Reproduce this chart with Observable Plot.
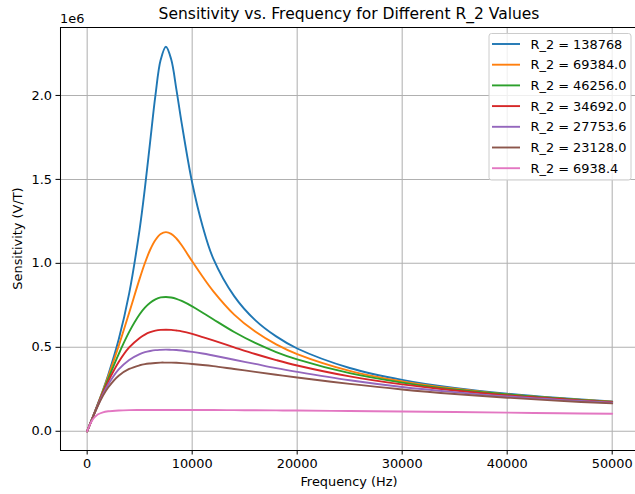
<!DOCTYPE html>
<html><head><meta charset="utf-8">
<script src="https://cdn.jsdelivr.net/npm/d3@7"></script>
<script src="https://cdn.jsdelivr.net/npm/@observablehq/plot@0.6"></script>
<style>
html,body{margin:0;padding:0;background:#fff;}
#chart{width:635px;height:494px;overflow:hidden;}
svg text{font-family:"DejaVu Sans",sans-serif;}
</style></head><body><div id="chart"></div>
<script>
// Frequencies (Hz)
const freq = [0, 500, 1000, 1500, 2000, 3000, 4000, 5000, 5500, 6000, 6500, 7000, 7500, 8000, 8500, 9000, 10000, 11000, 12000, 14000, 16000, 18000, 20000, 25000, 30000, 35000, 40000, 45000, 50000];

// Series labels and colours
const r2Labels = ["R_2 = 138768", "R_2 = 69384.0", "R_2 = 46256.0", "R_2 = 34692.0", "R_2 = 27753.6", "R_2 = 23128.0", "R_2 = 6938.4"];
const colors = ["#1f77b4", "#ff7f0e", "#2ca02c", "#d62728", "#9467bd", "#8c564b", "#e377c2"];

// Sensitivity values (units of 1e6 V/T)
const sR138768 = [0, 0.079, 0.160, 0.244, 0.335, 0.546, 0.821, 1.204, 1.449, 1.725, 2.000, 2.212, 2.290, 2.215, 2.035, 1.835, 1.480, 1.220, 1.030, 0.805, 0.662, 0.565, 0.493, 0.377, 0.306, 0.258, 0.224, 0.198, 0.177];
const sR69384 = [0, 0.079, 0.159, 0.241, 0.326, 0.508, 0.706, 0.909, 1.002, 1.081, 1.139, 1.175, 1.186, 1.176, 1.148, 1.108, 1.012, 0.920, 0.835, 0.695, 0.594, 0.518, 0.460, 0.360, 0.297, 0.253, 0.220, 0.195, 0.176];
const sR46256 = [0, 0.079, 0.157, 0.235, 0.312, 0.460, 0.592, 0.697, 0.736, 0.765, 0.785, 0.797, 0.800, 0.797, 0.789, 0.776, 0.744, 0.706, 0.667, 0.591, 0.526, 0.472, 0.428, 0.346, 0.290, 0.249, 0.219, 0.195, 0.175];
const sR34692 = [0, 0.078, 0.155, 0.228, 0.296, 0.412, 0.499, 0.556, 0.576, 0.590, 0.599, 0.604, 0.605, 0.604, 0.600, 0.595, 0.580, 0.561, 0.541, 0.500, 0.460, 0.424, 0.392, 0.327, 0.279, 0.243, 0.214, 0.192, 0.1735];
const sR27753 = [0, 0.078, 0.152, 0.219, 0.278, 0.368, 0.425, 0.460, 0.471, 0.478, 0.483, 0.485, 0.486, 0.485, 0.484, 0.481, 0.473, 0.463, 0.451, 0.426, 0.401, 0.376, 0.354, 0.304, 0.264, 0.233, 0.207, 0.187, 0.170];
const sR23128 = [0, 0.078, 0.149, 0.211, 0.261, 0.331, 0.371, 0.393, 0.400, 0.404, 0.407, 0.409, 0.409, 0.409, 0.408, 0.406, 0.401, 0.395, 0.388, 0.371, 0.354, 0.337, 0.320, 0.282, 0.249, 0.222, 0.200, 0.181, 0.166];
const sR6938 = [0, 0.067, 0.0995, 0.113, 0.119, 0.124, 0.126, 0.1265, 0.1267, 0.1268, 0.1269, 0.127, 0.127, 0.127, 0.127, 0.1269, 0.1267, 0.1265, 0.1263, 0.1257, 0.125, 0.1242, 0.1233, 0.1207, 0.1177, 0.1145, 0.1111, 0.1075, 0.104];
const seriesValues = [sR138768, sR69384, sR46256, sR34692, sR27753, sR23128, sR6938];

// Ticks and texts
const xTicks = [0, 10000, 20000, 30000, 40000, 50000];
const yTicks = [0, 0.5, 1.0, 1.5, 2.0];
const titleText = "Sensitivity vs. Frequency for Different R_2 Values";
const xLabel = "Frequency (Hz)";
const yLabel = "Sensitivity (V/T)";
const yExponent = "1e6";

const rows = [];
seriesValues.forEach((vals, i) => vals.forEach((v, j) => rows.push({f: freq[j], v, s: r2Labels[i]})));

const W = 635, H = 494, mL = 60, mR = 0, mT = 27, mB = 44;
const xDomain = [-2540, 52220];
const yDomain = [-0.1145, 2.4046];
const FS = 12.9;

const svg = Plot.plot({
  width: W, height: H,
  marginLeft: mL, marginRight: mR, marginTop: mT, marginBottom: mB,
  style: {fontFamily: "DejaVu Sans", fontSize: FS + "px", color: "#000", background: "#fff", overflow: "hidden"},
  x: {domain: xDomain, ticks: xTicks, tickFormat: d3.format("d"), label: null, tickSize: 4.5, tickPadding: 4},
  y: {domain: yDomain, ticks: yTicks, tickFormat: d3.format(".1f"), label: null, tickSize: 4.5, tickPadding: 4},
  color: {domain: r2Labels, range: colors},
  marks: [
    Plot.ruleX(xTicks, {stroke: "#b0b0b0", strokeWidth: 1.03, strokeOpacity: 1}),
    Plot.ruleY(yTicks, {stroke: "#b0b0b0", strokeWidth: 1.03, strokeOpacity: 1}),
    Plot.line(rows, {x: "f", y: "v", z: "s", stroke: "s", strokeWidth: 1.9, curve: "catmull-rom"}),
    Plot.ruleX([xDomain[0]], {stroke: "#000", strokeWidth: 1.03}),
    Plot.ruleY([yDomain[0], yDomain[1]], {stroke: "#000", strokeWidth: 1.03})
  ]
});

const sel = d3.select(svg);
const xMid = (mL + 638) / 2;
sel.append("text").attr("x", xMid).attr("y", 19).attr("text-anchor", "middle")
  .attr("font-size", 15.5).attr("fill", "#000").text(titleText);
sel.append("text").attr("x", 60).attr("y", 22.5).attr("text-anchor", "start")
  .attr("font-size", FS).attr("fill", "#000").text(yExponent);
sel.append("text").attr("x", xMid).attr("y", 485.5).attr("text-anchor", "middle")
  .attr("font-size", FS).attr("fill", "#000").text(xLabel);
sel.append("text").attr("transform", "translate(21.5,238.5) rotate(-90)").attr("text-anchor", "middle")
  .attr("font-size", FS).attr("fill", "#000").text(yLabel);

// Legend
const lg = sel.append("g").attr("text-anchor", "start");
const lx = 489, ly = 33.5, lw = 142, rowH = 20.7;
lg.append("rect").attr("x", lx).attr("y", ly).attr("width", lw).attr("height", 146.5)
  .attr("rx", 2.5).attr("fill", "#fff").attr("fill-opacity", 0.8).attr("stroke", "#cccccc").attr("stroke-width", 1);
r2Labels.forEach((lab, i) => {
  const cy = 44 + i * rowH;
  lg.append("line").attr("x1", 492).attr("x2", 520).attr("y1", cy).attr("y2", cy)
    .attr("stroke", colors[i]).attr("stroke-width", 1.9);
  lg.append("text").attr("x", 530.5).attr("y", cy + 4.6).attr("text-anchor", "start")
    .attr("font-size", FS).attr("fill", "#000").text(lab);
});

document.getElementById("chart").appendChild(svg);
</script></body></html>
